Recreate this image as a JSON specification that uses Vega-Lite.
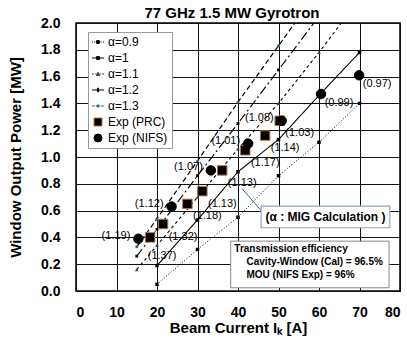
{
  "$schema": "https://vega.github.io/schema/vega-lite/v6.json",
  "autosize": {"type": "none"},
  "padding": {"left": 76, "top": 23, "right": 7, "bottom": 65},
  "width": 324,
  "height": 268,
  "title": {"text": "77 GHz 1.5 MW Gyrotron", "fontSize": 15, "fontWeight": "bold", "font": "Liberation Sans", "color": "black", "offset": 2, "dx": -6, "dy": 7},
  "config": {
    "font": "Liberation Sans",
    "view": {"stroke": "black", "strokeWidth": 1.5},
    "axis": {"grid": true, "gridColor": "#111", "gridWidth": 1, "domain": false, "ticks": false, "tickSize": 0, "labelOverlap": false, "labelFontSize": 14, "labelFontWeight": "bold", "labelColor": "black", "titleFontSize": 15, "titleFontWeight": "bold", "titleColor": "black", "labelFont": "Liberation Sans", "titleFont": "Liberation Sans"}
  },
  "datasets": {
    "pts": [
      {"series": "α=0.9", "I": 20, "P": 0.05}, {"series": "α=0.9", "I": 30, "P": 0.31}, {"series": "α=0.9", "I": 40, "P": 0.55}, {"series": "α=0.9", "I": 50, "P": 0.86}, {"series": "α=0.9", "I": 60, "P": 1.11}, {"series": "α=0.9", "I": 70, "P": 1.40},
      {"series": "α=1", "I": 20, "P": 0.19}, {"series": "α=1", "I": 30, "P": 0.53}, {"series": "α=1", "I": 40, "P": 0.89}, {"series": "α=1", "I": 50, "P": 1.13}, {"series": "α=1", "I": 60, "P": 1.46}, {"series": "α=1", "I": 70, "P": 1.78},
      {"series": "α=1.1", "I": 15, "P": 0.16}, {"series": "α=1.1", "I": 20, "P": 0.34}, {"series": "α=1.1", "I": 30, "P": 0.70}, {"series": "α=1.1", "I": 40, "P": 1.06}, {"series": "α=1.1", "I": 50, "P": 1.40}, {"series": "α=1.1", "I": 60, "P": 1.78}, {"series": "α=1.1", "I": 65.5, "P": 2.0},
      {"series": "α=1.2", "I": 15, "P": 0.26}, {"series": "α=1.2", "I": 20, "P": 0.46}, {"series": "α=1.2", "I": 30, "P": 0.86}, {"series": "α=1.2", "I": 40, "P": 1.25}, {"series": "α=1.2", "I": 50, "P": 1.65}, {"series": "α=1.2", "I": 58.75, "P": 2.0},
      {"series": "α=1.3", "I": 15, "P": 0.33}, {"series": "α=1.3", "I": 20, "P": 0.54}, {"series": "α=1.3", "I": 30, "P": 0.97}, {"series": "α=1.3", "I": 40, "P": 1.41}, {"series": "α=1.3", "I": 50, "P": 1.83}, {"series": "α=1.3", "I": 54, "P": 2.0},
      {"series": "Exp (PRC)", "I": 18.3, "P": 0.40, "label": "(1.37)"},
      {"series": "Exp (PRC)", "I": 21.5, "P": 0.50, "label": "(1.32)"},
      {"series": "Exp (PRC)", "I": 27.5, "P": 0.65, "label": "(1.18)"},
      {"series": "Exp (PRC)", "I": 31.2, "P": 0.745, "label": "(1.13)"},
      {"series": "Exp (PRC)", "I": 36.1, "P": 0.90, "label": "(1.13)"},
      {"series": "Exp (PRC)", "I": 41.8, "P": 1.05, "label": "(1.17)"},
      {"series": "Exp (PRC)", "I": 46.7, "P": 1.16, "label": "(1.14)"},
      {"series": "Exp (PRC)", "I": 50.3, "P": 1.27, "label": "(1.03)"},
      {"series": "Exp (NIFS)", "I": 15.4, "P": 0.39, "label": "(1.19)"},
      {"series": "Exp (NIFS)", "I": 23.6, "P": 0.63, "label": "(1.12)"},
      {"series": "Exp (NIFS)", "I": 33.3, "P": 0.90, "label": "(1.07)"},
      {"series": "Exp (NIFS)", "I": 42.5, "P": 1.10, "label": "(1.01)"},
      {"series": "Exp (NIFS)", "I": 50.8, "P": 1.27, "label": "(1.08)"},
      {"series": "Exp (NIFS)", "I": 60.5, "P": 1.47, "label": "(0.99)"},
      {"series": "Exp (NIFS)", "I": 69.9, "P": 1.61, "label": "(0.97)"}
    ],
    "notes": [
      {"kind": "box1", "I": 45.7, "I2": 77.5, "P": 0.472, "P2": 0.633},
      {"kind": "box2", "I": 38.2, "I2": 77.3, "P": 0.024, "P2": 0.372},
      {"kind": "rule", "I": 41.0, "I2": 45.85, "P": 0.763, "P2": 0.596},
      {"kind": "mig", "I": 61.6, "P": 0.552, "text": "(α : MIG Calculation )"},
      {"kind": "trans", "I": 39.1, "P": 0.31, "text": "Transmission efficiency"},
      {"kind": "trans", "I": 42.1, "P": 0.215, "text": "Cavity-Window (Cal) = 96.5%"},
      {"kind": "trans", "I": 42.1, "P": 0.12, "text": "MOU (NIFS Exp) = 96%"}
    ]
  },
  "encoding": {
    "x": {"field": "I", "type": "quantitative", "scale": {"domain": [0, 80], "nice": false},
      "axis": {"values": [0, 10, 20, 30, 40, 50, 60, 70, 80], "labelOverlap": false, "labelPadding": 14, "title": "Beam Current Iₖ [A]", "titlePadding": 1}},
    "y": {"field": "P", "type": "quantitative", "scale": {"domain": [0, 2], "nice": false},
      "axis": {"values": [0, 0.2, 0.4, 0.6, 0.8, 1, 1.2, 1.4, 1.6, 1.8, 2], "labelOverlap": false, "format": ".1f", "labelPadding": 16, "title": "Window Output Power [MW]", "titlePadding": 17}}
  },
  "layer": [
    {
      "data": {"name": "pts"},
      "transform": [{"filter": "indexof(datum.series, 'Exp') < 0"}],
      "mark": {"type": "line", "color": "black"},
      "encoding": {
        "detail": {"field": "series"},
        "strokeDash": {"field": "series", "type": "nominal", "legend": null, "scale": {"domain": ["α=0.9", "α=1", "α=1.1", "α=1.2", "α=1.3"], "range": [[1, 2], [1, 0], [3, 3], [9, 3, 2, 3], [5, 3]]}},
        "strokeWidth": {"field": "series", "type": "nominal", "legend": null, "scale": {"domain": ["α=0.9", "α=1", "α=1.1", "α=1.2", "α=1.3"], "range": [1, 1.2, 1, 1.6, 1.2]}}
      }
    },
    {
      "data": {"name": "pts"},
      "transform": [{"filter": "(datum.series === 'α=0.9' || datum.series === 'α=1') && datum.P < 2"}],
      "mark": {"type": "point", "shape": "square", "filled": true, "color": "black", "size": 12, "opacity": 1}
    },
    {
      "data": {"name": "pts"},
      "transform": [{"filter": "datum.series === 'α=1.1' && datum.P < 2"}],
      "mark": {"type": "point", "shape": "triangle-up", "filled": true, "color": "#444", "size": 14, "opacity": 1}
    },
    {
      "data": {"name": "pts"},
      "transform": [{"filter": "datum.series === 'α=1.2' && datum.P < 2"}],
      "mark": {"type": "point", "shape": "square", "filled": true, "color": "black", "size": 8, "opacity": 1}
    },
    {
      "data": {"name": "pts"},
      "transform": [{"filter": "datum.series === 'α=1.3' && datum.P < 2"}],
      "mark": {"type": "point", "shape": "circle", "filled": true, "color": "#2f6f7f", "size": 10, "opacity": 1}
    },
    {
      "data": {"name": "pts"},
      "transform": [{"filter": "indexof(datum.series, 'Exp') >= 0"}],
      "mark": {"type": "point", "filled": true, "size": 90, "opacity": 1, "strokeWidth": 1},
      "encoding": {
        "shape": {"field": "series", "type": "nominal",
          "scale": {"domain": ["α=0.9", "α=1", "α=1.1", "α=1.2", "α=1.3", "Exp (PRC)", "Exp (NIFS)"],
            "range": [
              "M-1.5,0H-1.25M-0.9,0H-0.65M0.65,0H0.9M1.25,0H1.5M-0.35,-0.35H0.35V0.35H-0.35Z",
              "M-1.5,0H1.5M-0.35,-0.35H0.35V0.35H-0.35Z",
              "M-1.5,0H-1.05M-0.7,0H-0.35M0.35,0H0.7M1.05,0H1.5M0,-0.4L0.4,0.35H-0.4Z",
              "M-1.5,0H1.5M-0.15,-0.45H0.15V0.45H-0.15Z",
              "M-1.5,0H-0.7M-0.45,0H-0.3M0.3,0H0.45M0.7,0H1.5M-0.3,0A0.3,0.3 0 1,0 0.3,0A0.3,0.3 0 1,0 -0.3,0Z",
              "square", "circle"]},
          "legend": {"title": null, "orient": "none", "legendX": 12, "legendY": 9, "fillColor": "white", "strokeColor": "#999", "padding": 4, "labelFontSize": 12, "labelColor": "black", "labelFont": "Liberation Sans", "symbolSize": 64, "rowPadding": 4, "labelOffset": 4, "symbolStrokeWidth": 1, "symbolOpacity": 1}},
        "fill": {"field": "series", "type": "nominal",
          "scale": {"domain": ["α=0.9", "α=1", "α=1.1", "α=1.2", "α=1.3", "Exp (PRC)", "Exp (NIFS)"], "range": ["black", "black", "#555", "black", "#2f6f7f", "black", "black"]},
          "legend": {"title": null, "orient": "none", "legendX": 12, "legendY": 9, "fillColor": "white", "strokeColor": "#999", "padding": 4, "labelFontSize": 12, "labelColor": "black", "labelFont": "Liberation Sans", "symbolSize": 64, "rowPadding": 4, "labelOffset": 4, "symbolStrokeWidth": 1, "symbolOpacity": 1}},
        "stroke": {"field": "series", "type": "nominal",
          "scale": {"domain": ["α=0.9", "α=1", "α=1.1", "α=1.2", "α=1.3", "Exp (PRC)", "Exp (NIFS)"], "range": ["black", "black", "#333", "black", "#2f6f7f", "#b8733a", "black"]},
          "legend": {"title": null, "orient": "none", "legendX": 12, "legendY": 9, "fillColor": "white", "strokeColor": "#999", "padding": 4, "labelFontSize": 12, "labelColor": "black", "labelFont": "Liberation Sans", "symbolSize": 64, "rowPadding": 4, "labelOffset": 4, "symbolStrokeWidth": 1, "symbolOpacity": 1}}
      }
    },
    {
      "data": {"name": "pts"},
      "transform": [{"filter": "datum.series === 'Exp (PRC)' && datum.I > 20"}],
      "mark": {"type": "text", "fontSize": 11, "color": "black", "align": "center", "baseline": "middle", "dx": 20, "dy": 12.5},
      "encoding": {"text": {"field": "label"}}
    },
    {
      "data": {"name": "pts"},
      "transform": [{"filter": "datum.series === 'Exp (PRC)' && datum.I <= 20"}],
      "mark": {"type": "text", "fontSize": 11, "color": "black", "align": "center", "baseline": "middle", "dx": 12, "dy": 19},
      "encoding": {"text": {"field": "label"}}
    },
    {
      "data": {"name": "pts"},
      "transform": [{"filter": "datum.series === 'Exp (NIFS)' && datum.I < 55"}],
      "mark": {"type": "text", "fontSize": 11, "color": "black", "align": "right", "baseline": "middle", "dx": -8, "dy": -3},
      "encoding": {"text": {"field": "label"}}
    },
    {
      "data": {"name": "pts"},
      "transform": [{"filter": "datum.series === 'Exp (NIFS)' && datum.I >= 55"}],
      "mark": {"type": "text", "fontSize": 11, "color": "black", "align": "center", "baseline": "middle", "dx": 18, "dy": 9},
      "encoding": {"text": {"field": "label"}}
    },
    {
      "data": {"name": "notes"},
      "transform": [{"filter": "datum.kind === 'rule'"}],
      "mark": {"type": "rule", "color": "#3d5f99", "strokeWidth": 1},
      "encoding": {"x2": {"field": "I2"}, "y2": {"field": "P2"}}
    },
    {
      "data": {"name": "notes"},
      "transform": [{"filter": "datum.kind === 'box1'"}],
      "mark": {"type": "rect", "fill": "white", "stroke": "#93a5bd", "strokeWidth": 1.2},
      "encoding": {"x2": {"field": "I2"}, "y2": {"field": "P2"}}
    },
    {
      "data": {"name": "notes"},
      "transform": [{"filter": "datum.kind === 'box2'"}],
      "mark": {"type": "rect", "fill": "white", "stroke": "#888", "strokeWidth": 1},
      "encoding": {"x2": {"field": "I2"}, "y2": {"field": "P2"}}
    },
    {
      "data": {"name": "notes"},
      "transform": [{"filter": "datum.kind === 'mig'"}],
      "mark": {"type": "text", "fontSize": 12, "fontWeight": "bold", "color": "black", "align": "center", "baseline": "middle"},
      "encoding": {"text": {"field": "text"}}
    },
    {
      "data": {"name": "notes"},
      "transform": [{"filter": "datum.kind === 'trans'"}],
      "mark": {"type": "text", "fontSize": 10, "fontWeight": "bold", "color": "black", "align": "left", "baseline": "middle"},
      "encoding": {"text": {"field": "text"}}
    }
  ]
}
